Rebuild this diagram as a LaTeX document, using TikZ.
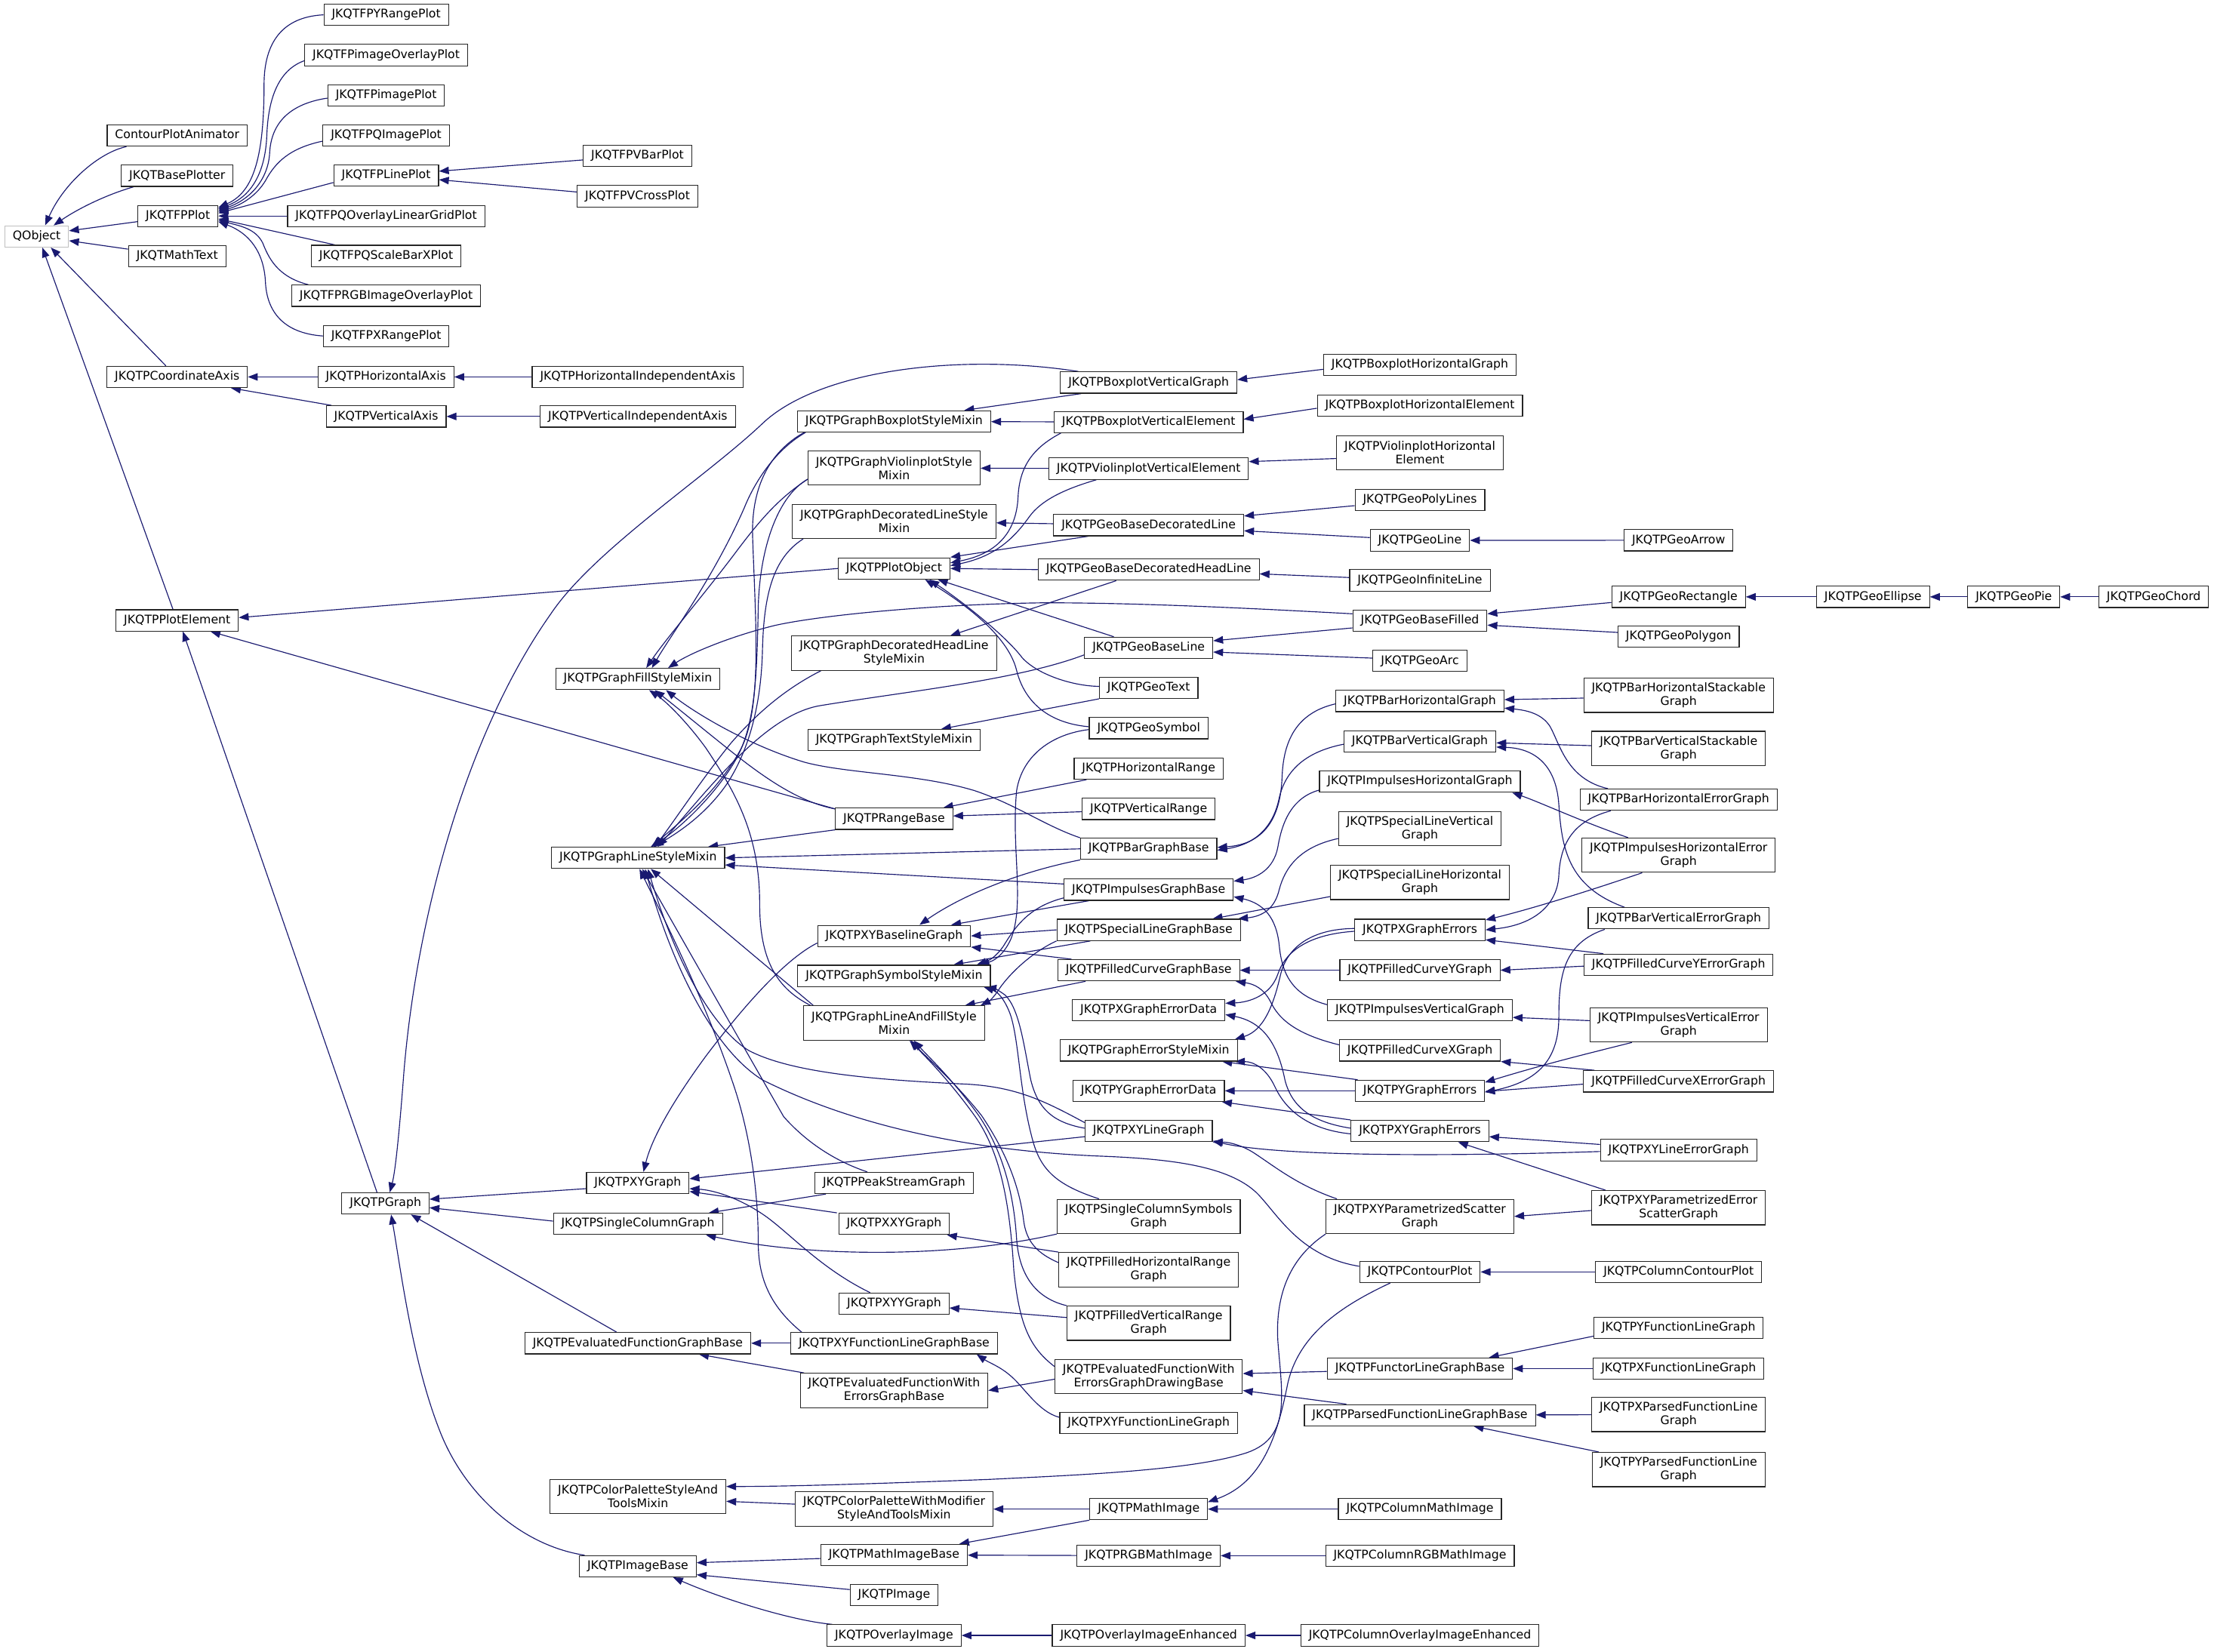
\documentclass[tikz,border=0pt]{standalone}
\usepackage{fontspec}
\setmainfont{DejaVu Sans}
\usetikzlibrary{arrows.meta}
\definecolor{edgeblue}{HTML}{191970}
\definecolor{boxgray}{HTML}{BFBFBF}
\pgfdeclarelayer{bg}
\pgfdeclarelayer{edges}
\pgfsetlayers{bg,edges,main}
\tikzset{
 cls/.style={draw=black!85, line width=0.6pt, fill=white, font=\fontsize{8.4}{9.6}\selectfont, inner xsep=5.6pt, inner ysep=3.5pt, text height=6.3pt, text depth=1.8pt},
 clsb/.style={draw=black!85, line width=0.6pt, fill=white, font=\fontsize{8.4}{9.6}\selectfont, inner xsep=5.6pt, inner ysep=3pt, align=center, minimum height=24.3pt},
 inh/.style={draw=edgeblue, line width=0.62pt, -{Triangle[length=7pt,width=5.3pt]}},
}
\begin{document}
\begin{tikzpicture}[x=1pt,y=-1pt]
\begin{pgfonlayer}{bg}
\fill[white] (0,0) rectangle (1568,1170.2);
\end{pgfonlayer}
\useasboundingbox (0,0) rectangle (1568,1170.2);
% column 1
\node[cls,draw=boxgray] (qo) at (26,167.5) {QObject};
\node[cls] (cpa) at (125.5,96) {ContourPlotAnimator};
\node[cls] (bp) at (125.5,124.5) {JKQTBasePlotter};
\node[cls] (fpp) at (126,153) {JKQTFPPlot};
\node[cls] (mt) at (125.5,181.5) {JKQTMathText};
\node[cls] (ca) at (125.5,267) {JKQTPCoordinateAxis};
\node[cls] (pe) at (125.5,439.5) {JKQTPPlotElement};
% column 2
\node[cls] (fpyr) at (273.5,10.5) {JKQTFPYRangePlot};
\node[cls] (fpio) at (273.5,39) {JKQTFPimageOverlayPlot};
\node[cls] (fpi) at (273.5,67.5) {JKQTFPimagePlot};
\node[cls] (fpqi) at (273.5,96) {JKQTFPQImagePlot};
\node[cls] (fplp) at (273.5,124.3) {JKQTFPLinePlot};
\node[cls] (fpog) at (273.5,153) {JKQTFPQOverlayLinearGridPlot};
\node[cls] (fpsb) at (273.5,181.3) {JKQTFPQScaleBarXPlot};
\node[cls] (fprgb) at (273.5,209.5) {JKQTFPRGBImageOverlayPlot};
\node[cls] (fpxr) at (273.5,238) {JKQTFPXRangePlot};
\node[cls] (hax) at (273.3,267) {JKQTPHorizontalAxis};
\node[cls] (vax) at (273.5,295) {JKQTPVerticalAxis};
\node[cls] (gr) at (273,852.5) {JKQTPGraph};
% column 3
\node[cls] (fpvb) at (451.5,110.3) {JKQTFPVBarPlot};
\node[cls] (fpvc) at (451.5,139) {JKQTFPVCrossPlot};
\node[cls] (hia) at (451.7,267) {JKQTPHorizontalIndependentAxis};
\node[cls] (via) at (451.7,295) {JKQTPVerticalIndependentAxis};
\node[cls] (fill) at (451.7,481) {JKQTPGraphFillStyleMixin};
\node[cls] (lsm) at (451.9,607.7) {JKQTPGraphLineStyleMixin};
\node[cls] (xyg) at (451.7,838) {JKQTPXYGraph};
\node[cls] (scg) at (451.8,867) {JKQTPSingleColumnGraph};
\node[cls] (efgb) at (451.7,951.5) {JKQTPEvaluatedFunctionGraphBase};
\node[clsb] (cpst) at (451.8,1060) {JKQTPColorPaletteStyleAnd\\ToolsMixin};
\node[cls] (ib) at (451.7,1109.5) {JKQTPImageBase};
% column 4
\node[cls] (boxm) at (633.2,298.5) {JKQTPGraphBoxplotStyleMixin};
\node[clsb] (vio) at (633.2,331.5) {JKQTPGraphViolinplotStyle\\Mixin};
\node[clsb] (dls) at (633.2,369.3) {JKQTPGraphDecoratedLineStyle\\Mixin};
\node[cls] (po) at (633.2,402.7) {JKQTPPlotObject};
\node[clsb] (dhls) at (633.2,462.7) {JKQTPGraphDecoratedHeadLine\\StyleMixin};
\node[cls] (txt) at (633.2,524.3) {JKQTPGraphTextStyleMixin};
\node[cls] (rb) at (633.2,580) {JKQTPRangeBase};
\node[cls] (xyb) at (633.2,663) {JKQTPXYBaselineGraph};
\node[cls] (sym) at (633.2,691.3) {JKQTPGraphSymbolStyleMixin};
\node[clsb] (laf) at (633.2,724.6) {JKQTPGraphLineAndFillStyle\\Mixin};
\node[cls] (psg) at (633.2,838) {JKQTPPeakStreamGraph};
\node[cls] (xxy) at (633.2,867) {JKQTPXXYGraph};
\node[cls] (xyy) at (633.2,923.5) {JKQTPXYYGraph};
\node[cls] (xyflgb) at (633.2,951.5) {JKQTPXYFunctionLineGraphBase};
\node[clsb] (efwegb) at (633.2,985) {JKQTPEvaluatedFunctionWith\\ErrorsGraphBase};
\node[clsb] (cpwm) at (633.2,1069) {JKQTPColorPaletteWithModifier\\StyleAndToolsMixin};
\node[cls] (mib) at (633.2,1101.5) {JKQTPMathImageBase};
\node[cls] (img) at (633.2,1130) {JKQTPImage};
\node[cls] (oi) at (633.2,1158.5) {JKQTPOverlayImage};
% column 5
\node[cls] (bvg) at (813.5,271) {JKQTPBoxplotVerticalGraph};
\node[cls] (bve) at (813.5,299) {JKQTPBoxplotVerticalElement};
\node[cls] (vve) at (813.5,332) {JKQTPViolinplotVerticalElement};
\node[cls] (gbdl) at (813.5,372) {JKQTPGeoBaseDecoratedLine};
\node[cls] (gbdhl) at (813.5,403.5) {JKQTPGeoBaseDecoratedHeadLine};
\node[cls] (gbl) at (813.5,458.9) {JKQTPGeoBaseLine};
\node[cls] (gtxt) at (813.5,487.2) {JKQTPGeoText};
\node[cls] (gsym) at (813.5,515.8) {JKQTPGeoSymbol};
\node[cls] (hr) at (813.5,544.5) {JKQTPHorizontalRange};
\node[cls] (vr) at (813.5,573) {JKQTPVerticalRange};
\node[cls] (bgb) at (813.5,601.3) {JKQTPBarGraphBase};
\node[cls] (igb) at (813.5,630.2) {JKQTPImpulsesGraphBase};
\node[cls] (slgb) at (813.5,658.7) {JKQTPSpecialLineGraphBase};
\node[cls] (fcgb) at (813.5,687.3) {JKQTPFilledCurveGraphBase};
\node[cls] (xged) at (813.5,715.7) {JKQTPXGraphErrorData};
\node[cls] (gesm) at (813.5,744.1) {JKQTPGraphErrorStyleMixin};
\node[cls] (yged) at (813.5,772.7) {JKQTPYGraphErrorData};
\node[cls] (xylg) at (813.5,801.2) {JKQTPXYLineGraph};
\node[clsb] (scsg) at (813.5,861.7) {JKQTPSingleColumnSymbols\\Graph};
\node[clsb] (fhrg) at (813.5,899.4) {JKQTPFilledHorizontalRange\\Graph};
\node[clsb] (fvrg) at (813.5,937.3) {JKQTPFilledVerticalRange\\Graph};
\node[clsb] (efwegdb) at (813.5,975) {JKQTPEvaluatedFunctionWith\\ErrorsGraphDrawingBase};
\node[cls] (xyflg) at (813.5,1008) {JKQTPXYFunctionLineGraph};
\node[cls] (mi) at (813.5,1069) {JKQTPMathImage};
\node[cls] (rgbmi) at (813.5,1102) {JKQTPRGBMathImage};
\node[cls] (oie) at (813.5,1158.5) {JKQTPOverlayImageEnhanced};
% column 6
\node[cls] (bxhg) at (1005.6,258.6) {JKQTPBoxplotHorizontalGraph};
\node[cls] (bxhe) at (1005.6,287.2) {JKQTPBoxplotHorizontalElement};
\node[clsb] (vhe) at (1005.6,320.8) {JKQTPViolinplotHorizontal\\Element};
\node[cls] (gpl) at (1005.6,354.2) {JKQTPGeoPolyLines};
\node[cls] (gl) at (1005.6,382.8) {JKQTPGeoLine};
\node[cls] (gil) at (1005.6,411.1) {JKQTPGeoInfiniteLine};
\node[cls] (gbf) at (1005.6,439.8) {JKQTPGeoBaseFilled};
\node[cls] (garc) at (1005.6,468.2) {JKQTPGeoArc};
\node[cls] (barh) at (1005.6,496.6) {JKQTPBarHorizontalGraph};
\node[cls] (barv) at (1005.6,525.2) {JKQTPBarVerticalGraph};
\node[cls] (ihg) at (1005.6,553.7) {JKQTPImpulsesHorizontalGraph};
\node[clsb] (slvg) at (1005.6,587) {JKQTPSpecialLineVertical\\Graph};
\node[clsb] (slhg) at (1005.6,625.1) {JKQTPSpecialLineHorizontal\\Graph};
\node[cls] (xge) at (1005.6,658.7) {JKQTPXGraphErrors};
\node[cls] (fcyg) at (1005.6,687.3) {JKQTPFilledCurveYGraph};
\node[cls] (ivg) at (1005.6,715.7) {JKQTPImpulsesVerticalGraph};
\node[cls] (fcxg) at (1005.6,744.1) {JKQTPFilledCurveXGraph};
\node[cls] (yge) at (1005.6,772.7) {JKQTPYGraphErrors};
\node[cls] (xyge) at (1005.6,801.2) {JKQTPXYGraphErrors};
\node[clsb] (xypsg) at (1005.6,861.7) {JKQTPXYParametrizedScatter\\Graph};
\node[cls] (cp) at (1005.6,901) {JKQTPContourPlot};
\node[cls] (flgb) at (1005.6,969.5) {JKQTPFunctorLineGraphBase};
\node[cls] (pflgb) at (1005.6,1002.5) {JKQTPParsedFunctionLineGraphBase};
\node[cls] (cmi) at (1005.6,1069) {JKQTPColumnMathImage};
\node[cls] (crgbmi) at (1005.6,1102) {JKQTPColumnRGBMathImage};
\node[cls] (coie) at (1005.6,1158.5) {JKQTPColumnOverlayImageEnhanced};
% column 7
\node[cls] (garrow) at (1188.8,382.7) {JKQTPGeoArrow};
\node[cls] (grect) at (1188.8,422.8) {JKQTPGeoRectangle};
\node[cls] (gpoly) at (1188.8,451) {JKQTPGeoPolygon};
\node[clsb] (barhs) at (1188.8,492.5) {JKQTPBarHorizontalStackable\\Graph};
\node[clsb] (barvs) at (1188.8,530.2) {JKQTPBarVerticalStackable\\Graph};
\node[cls] (barhe) at (1188.8,566.5) {JKQTPBarHorizontalErrorGraph};
\node[clsb] (ihe) at (1188.8,605.8) {JKQTPImpulsesHorizontalError\\Graph};
\node[cls] (barve) at (1188.8,650.5) {JKQTPBarVerticalErrorGraph};
\node[cls] (fcye) at (1188.8,683.4) {JKQTPFilledCurveYErrorGraph};
\node[clsb] (ive) at (1188.8,726) {JKQTPImpulsesVerticalError\\Graph};
\node[cls] (fcxe) at (1188.8,766) {JKQTPFilledCurveXErrorGraph};
\node[cls] (xyle) at (1188.8,814.7) {JKQTPXYLineErrorGraph};
\node[clsb] (xypes) at (1188.8,855.5) {JKQTPXYParametrizedError\\ScatterGraph};
\node[cls] (ccp) at (1188.8,901) {JKQTPColumnContourPlot};
\node[cls] (yflg) at (1188.8,940.5) {JKQTPYFunctionLineGraph};
\node[cls] (xflg) at (1188.8,969.5) {JKQTPXFunctionLineGraph};
\node[clsb] (xpflg) at (1188.8,1002) {JKQTPXParsedFunctionLine\\Graph};
\node[clsb] (ypflg) at (1188.8,1041) {JKQTPYParsedFunctionLine\\Graph};
% columns 8-10
\node[cls] (gell) at (1326.5,422.8) {JKQTPGeoEllipse};
\node[cls] (gpie) at (1426.2,422.8) {JKQTPGeoPie};
\node[cls] (gchord) at (1525.3,422.8) {JKQTPGeoChord};

\begin{pgfonlayer}{edges}
% QObject
\draw[inh] ([xshift=14pt]cpa.south west) .. controls (70,108) and (45,130) .. ([xshift=6pt]qo.north);
\draw[inh] ([xshift=9pt]bp.south west) .. controls (75,138) and (55,148) .. ([xshift=12pt]qo.north);
\draw[inh] ([yshift=-4pt]fpp.west) -- ([yshift=4pt]qo.east);
\draw[inh] ([yshift=5pt]mt.west) -- ([yshift=-3pt]qo.east);
\draw[inh] ([xshift=-8pt]ca.north) -- ([xshift=10pt]qo.south);
\draw[inh] ([xshift=-3pt]pe.north) -- ([xshift=4pt]qo.south);
% FP plots
\draw[inh] (fpyr.west) .. controls (200,12) and (187,30) .. (187,60) .. controls (187,110) and (180,136) .. ([yshift=6pt]fpp.east);
\draw[inh] ([yshift=-4pt]fpio.west) .. controls (196,50) and (190,72) .. (189,95) .. controls (188,125) and (176,140) .. ([yshift=5pt]fpp.east);
\draw[inh] ([yshift=-2pt]fpi.west) .. controls (202,74) and (192,90) .. (191,108) .. controls (190,128) and (176,142) .. ([yshift=4pt]fpp.east);
\draw[inh] ([yshift=-4pt]fpqi.west) .. controls (205,105) and (195,115) .. (188,128) .. controls (182,138) and (172,145) .. ([yshift=3pt]fpp.east);
\draw[inh] ([yshift=-5pt]fplp.west) -- ([yshift=2pt]fpp.east);
\draw[inh] (fpog.west) -- (fpp.east);
\draw[inh] ([xshift=17pt]fpsb.north west) -- ([yshift=-2pt]fpp.east);
\draw[inh] ([xshift=12pt]fprgb.north west) .. controls (196,196) and (190,182) .. (186,172) .. controls (181,162) and (170,160) .. ([yshift=-3pt]fpp.east);
\draw[inh] (fpxr.west) .. controls (200,236) and (189,220) .. (188,200) .. controls (187,178) and (176,165) .. ([yshift=-4pt]fpp.east);
\draw[inh] ([yshift=-3pt]fpvb.west) -- ([yshift=3pt]fplp.east);
\draw[inh] ([yshift=3pt]fpvc.west) -- ([yshift=-3pt]fplp.east);
% axes
\draw[inh] (hax) -- (ca);
\draw[inh] ([xshift=4pt]vax.north west) -- ([xshift=-12pt]ca.south east);
\draw[inh] (hia) -- (hax);
\draw[inh] (via) -- (vax);
% plot element
\draw[inh] (po.west) -- ([yshift=2pt]pe.east);
\draw[inh] ([yshift=7pt]rb.west) -- ([xshift=-20pt]pe.south east);
\draw[inh] ([xshift=-6pt]gr.north) -- ([xshift=4pt]pe.south);
% graph
\draw[inh] ([xshift=13pt]bvg.north west) .. controls (680,250) and (580,262) .. (540,300) .. controls (500,338) and (420,390) .. (390,435) .. controls (330,520) and (295,650) .. (286,760) .. controls (283,800) and (280,830) .. ([xshift=3pt]gr.north);
\draw[inh] ([yshift=-4pt]xyg.west) -- ([yshift=3pt]gr.east);
\draw[inh] ([yshift=2pt]scg.west) -- ([yshift=-3pt]gr.east);
\draw[inh] ([xshift=-15pt]efgb.north) -- ([xshift=18pt]gr.south);
\draw[inh] ([xshift=4pt]ib.north west) .. controls (370,1095) and (330,1060) .. (312,1015) .. controls (292,965) and (284,900) .. ([xshift=4pt]gr.south);
% xy graph
\draw[inh] ([yshift=-5pt]xyb.west) .. controls (555,680) and (525,715) .. (500,748) .. controls (478,778) and (462,805) .. ([xshift=4pt]xyg.north);
\draw[inh] ([yshift=-4pt]xylg.west) -- ([yshift=3pt]xyg.east);
\draw[inh] ([xshift=-17pt]xyy.north) .. controls (580,898) and (558,872) .. (540,860) .. controls (522,848) and (505,843) .. ([yshift=-4pt]xyg.east);
\draw[inh] ([xshift=-1pt]xxy.north west) -- ([yshift=-6pt]xyg.east);
% single column
\draw[inh] ([xshift=8pt]psg.south west) -- ([xshift=-10pt]scg.north east);
\draw[inh] (scsg.south west) .. controls (680,890) and (580,892) .. ([xshift=-12pt]scg.south east);
% evaluated functions
\draw[inh] (xyflgb) -- (efgb);
\draw[inh] ([xshift=3pt]efwegb.north west) -- ([xshift=-37pt]efgb.south east);
\draw[inh] ([yshift=-2pt]efwegdb.west) -- (efwegb.east);
\draw[inh] ([yshift=4pt]xyflg.west) .. controls (735,1000) and (725,982) .. (715,974) .. controls (708,968) and (700,965) .. ([xshift=-15pt]xyflgb.south east);
\draw[inh] ([yshift=-2pt]flgb.west) -- ([yshift=2pt]efwegdb.east);
\draw[inh] ([xshift=30pt]pflgb.north west) -- ([yshift=-10pt]efwegdb.east);
\draw[inh] ([yshift=-6pt]yflg.west) -- ([xshift=-17pt]flgb.north east);
\draw[inh] (xflg) -- (flgb);
\draw[inh] (xpflg) -- (pflgb);
\draw[inh] ([xshift=5pt]ypflg.north west) -- ([xshift=-44pt]pflgb.south east);
% color palette, images
\draw[inh] ([yshift=3.5pt]cpwm.west) -- ([yshift=-3.5pt]cpst.east);
\draw[inh] (xypsg.south west) .. controls (915,890) and (903,915) .. (905,950) .. controls (908,990) and (915,1020) .. (880,1030) .. controls (840,1042) and (760,1045) .. (700,1048) .. controls (620,1051) and (560,1053) .. ([yshift=7pt]cpst.east);
\draw[inh] ([yshift=-2.5pt]mib.west) -- ([yshift=2.5pt]ib.east);
\draw[inh] ([yshift=4pt]img.west) -- ([yshift=-6pt]ib.east);
\draw[inh] ([xshift=4pt]oi.north west) .. controls (560,1148) and (510,1132) .. ([xshift=25pt]ib.south);
\draw[inh] (oie) -- (oi);
\draw[inh] (coie) -- (oie);
\draw[inh] (rgbmi) -- (mib);
\draw[inh] (crgbmi) -- (rgbmi);
\draw[inh] (mi.south west) -- ([xshift=-6pt]mib.north east);
\draw[inh] (mi) -- (cpwm);
\draw[inh] (cmi) -- (mi);
\draw[inh] ([xshift=-21pt]cp.south) .. controls (950,925) and (920,945) .. (912,980) .. controls (905,1015) and (895,1050) .. ([yshift=5pt]mi.east);
\draw[inh] (ccp) -- (cp);
% line style mixin children
\draw[inh] ([xshift=5pt]boxm.south west) .. controls (545,320) and (532,345) .. (533,380) .. controls (535,440) and (540,500) .. (525,530) .. controls (508,562) and (478,585) .. ([xshift=10pt]lsm.north);
\draw[inh] ([yshift=-8pt]vio.west) .. controls (550,352) and (538,390) .. (537,430) .. controls (536,480) and (535,515) .. (520,540) .. controls (505,565) and (480,588) .. ([xshift=9pt]lsm.north);
\draw[inh] ([xshift=8pt]dls.south west) .. controls (548,395) and (541,420) .. (540,460) .. controls (539,505) and (528,535) .. (515,555) .. controls (500,577) and (480,590) .. ([xshift=11pt]lsm.north);
\draw[inh] ([xshift=21pt]dhls.south west) .. controls (552,490) and (532,510) .. (518,526) .. controls (500,548) and (482,575) .. ([xshift=12pt]lsm.north);
\draw[inh] ([yshift=-5pt]gbl.west) .. controls (720,482) and (640,490) .. (580,500) .. controls (542,507) and (505,555) .. ([xshift=14pt]lsm.north);
\draw[inh] (rb.south west) -- ([xshift=-12pt]lsm.north east);
\draw[inh] (bgb.west) -- (lsm.east);
\draw[inh] ([yshift=4pt]igb.west) -- ([yshift=-5pt]lsm.east);
\draw[inh] ([xshift=7pt]laf.north west) -- ([xshift=9pt]lsm.south);
\draw[inh] ([yshift=6pt]xylg.west) .. controls (740,780) and (720,770) .. (685,768) .. controls (620,765) and (560,760) .. (530,744) .. controls (500,725) and (475,670) .. ([xshift=7pt]lsm.south);
\draw[inh] ([yshift=4pt]cp.west) .. controls (920,890) and (905,860) .. (890,845) .. controls (870,826) and (830,821) .. (780,819) .. controls (680,815) and (600,795) .. (540,765) .. controls (500,740) and (472,670) .. ([xshift=5pt]lsm.south);
\draw[inh] ([xshift=-19pt]psg.north) .. controls (590,822) and (570,808) .. (555,791) .. controls (520,730) and (480,660) .. ([xshift=3pt]lsm.south);
\draw[inh] ([xshift=8pt]xyflgb.north west) .. controls (545,925) and (537,905) .. (537,880) .. controls (537,840) and (530,800) .. (520,770) .. controls (500,710) and (470,650) .. ([xshift=1pt]lsm.south);
% fill style mixin children
\draw[inh] ([xshift=6pt]boxm.south west) .. controls (550,318) and (535,340) .. (527,360) .. controls (505,410) and (475,450) .. ([xshift=10pt]fill.north);
\draw[inh] ([yshift=-8pt]vio.west) .. controls (553,352) and (540,366) .. (522,390) .. controls (498,422) and (472,452) .. ([xshift=6pt]fill.north);
\draw[inh] ([yshift=5pt]gbf.west) .. controls (870,430) and (800,427) .. (740,427) .. controls (660,428) and (580,436) .. (549,443) .. controls (520,450) and (490,462) .. ([xshift=-37pt]fill.north east);
\draw[inh] ([yshift=7pt]rb.west) .. controls (565,568) and (540,550) .. (515,530) .. controls (495,514) and (478,500) .. ([xshift=12pt]fill.south);
\draw[inh] (bgb.north west) .. controls (740,585) and (720,570) .. (690,560) .. controls (650,548) and (600,548) .. (570,540) .. controls (530,528) and (492,505) .. ([xshift=20pt]fill.south);
\draw[inh] ([xshift=5pt]laf.north west) .. controls (550,700) and (538,680) .. (538,640) .. controls (538,590) and (520,560) .. (500,530) .. controls (487,512) and (472,497) .. ([xshift=8pt]fill.south);
% plot object children
\draw[inh] ([xshift=5pt]bve.south west) .. controls (730,318) and (722,332) .. (721,352) .. controls (720,375) and (708,392) .. ([yshift=4pt]po.east);
\draw[inh] ([xshift=34pt]vve.south west) .. controls (752,347) and (737,355) .. (729,366) .. controls (719,380) and (706,394) .. ([yshift=2pt]po.east);
\draw[inh] ([xshift=25pt]gbdl.south west) -- ([yshift=8pt]po.east);
\draw[inh] (gbdhl.west) -- (po.east);
\draw[inh] ([xshift=21pt]gbl.north west) -- ([xshift=31pt]po.south);
\draw[inh] ([yshift=1pt]gtxt.west) .. controls (760,486) and (735,478) .. (724,466) .. controls (712,450) and (680,425) .. ([xshift=25pt]po.south);
\draw[inh] ([yshift=1pt]gsym.west) .. controls (740,512) and (725,495) .. (720,475) .. controls (714,450) and (682,427) .. ([xshift=22pt]po.south);
% style mixin direct children
\draw[inh] (bve) -- (boxm);
\draw[inh] ([xshift=15pt]bvg.south west) -- ([xshift=-19pt]boxm.north east);
\draw[inh] (vve) -- (vio);
\draw[inh] (gbdl) -- (dls);
\draw[inh] ([xshift=-23pt]gbdhl.south) -- ([xshift=-33pt]dhls.north east);
\draw[inh] (gtxt.south west) -- ([xshift=-28pt]txt.north east);
\draw[inh] ([yshift=-1pt]gsym.west) .. controls (745,520) and (724,535) .. (720,560) .. controls (716,600) and (726,640) .. (716,665) .. controls (712,674) and (706,680) .. ([xshift=-8pt]sym.north east);
% ranges
\draw[inh] ([xshift=9pt]hr.south west) -- ([xshift=-7pt]rb.north east);
\draw[inh] ([yshift=-2pt]vr.west) -- ([yshift=2pt]rb.east);
% xy baseline children
\draw[inh] (bgb.south west) .. controls (720,618) and (680,635) .. ([xshift=18pt]xyb.north);
\draw[inh] ([xshift=18pt]igb.south west) -- ([xshift=-14pt]xyb.north east);
\draw[inh] ([yshift=2pt]igb.south west) .. controls (730,642) and (720,655) .. (712,668) .. controls (708,675) and (702,680) .. ([xshift=-10pt]sym.north east);
\draw[inh] (slgb.west) -- (xyb.east);
\draw[inh] ([xshift=24pt]slgb.south west) -- ([xshift=42pt]sym.north);
\draw[inh] (slgb.south west) .. controls (730,675) and (715,690) .. (708,700) .. controls (705,705) and (701,709) .. ([xshift=-3pt]laf.north east);
\draw[inh] ([xshift=10pt]fcgb.north west) -- (xyb.south east);
\draw[inh] ([xshift=20pt]fcgb.south west) -- ([xshift=-14pt]laf.north east);
% column 6 into column 5
\draw[inh] ([yshift=-2pt]barh.west) .. controls (918,505) and (909,525) .. (908,550) .. controls (907,580) and (895,598) .. ([yshift=1pt]bgb.east);
\draw[inh] ([yshift=-2pt]barv.west) .. controls (922,533) and (910,548) .. (906,565) .. controls (902,585) and (890,598) .. ([yshift=-1pt]bgb.east);
\draw[inh] ([yshift=-6pt]ihg.west) .. controls (915,565) and (908,582) .. (905,600) .. controls (902,616) and (890,622) .. ([yshift=6pt]igb.east);
\draw[inh] ([yshift=4pt]ivg.west) .. controls (915,705) and (908,690) .. (906,670) .. controls (904,650) and (895,640) .. ([yshift=-5pt]igb.east);
\draw[inh] ([yshift=-7pt]slvg.west) .. controls (920,600) and (910,615) .. (906,630) .. controls (903,643) and (895,649) .. ([xshift=-2pt]slgb.north east);
\draw[inh] ([yshift=-10pt]slhg.west) -- ([xshift=-20pt]slgb.north east);
\draw[inh] (fcyg) -- (fcgb);
\draw[inh] ([yshift=4pt]fcxg.west) .. controls (915,732) and (905,720) .. (900,710) .. controls (895,700) and (888,697) .. ([xshift=-3pt]fcgb.south east);
% errors
\draw[inh] ([yshift=-1pt]xge.west) .. controls (925,662) and (910,675) .. (905,690) .. controls (900,705) and (885,710) .. ([yshift=5pt]xged.east);
\draw[inh] ([yshift=1pt]xge.west) .. controls (930,658) and (912,670) .. (907,690) .. controls (902,712) and (895,730) .. ([xshift=-2pt]gesm.north east);
\draw[inh] (yge) -- (yged);
\draw[inh] ([xshift=2pt]yge.north west) -- ([xshift=-11pt]gesm.south east);
\draw[inh] ([yshift=2pt]xyge.west) .. controls (930,795) and (915,785) .. (910,765) .. controls (905,740) and (895,724) .. ([yshift=-3pt]xged.east);
\draw[inh] (xyge.north west) -- ([xshift=-2pt]yged.south east);
\draw[inh] ([yshift=-2pt]xyge.west) .. controls (925,800) and (910,785) .. (903,770) .. controls (897,757) and (888,752) .. ([xshift=-2pt]gesm.south east);
% xy line graph and symbols
\draw[inh] ([yshift=2pt]xylg.west) .. controls (745,795) and (735,785) .. (730,765) .. controls (725,740) and (722,715) .. (712,705) .. controls (708,702) and (704,700) .. ([xshift=-3pt]sym.south east);
\draw[inh] ([xshift=30pt]scsg.north west) .. controls (750,840) and (738,830) .. (732,810) .. controls (722,775) and (722,740) .. (716,720) .. controls (712,708) and (706,702) .. ([xshift=-5pt]sym.south east);
\draw[inh] ([yshift=-1pt]xyle.west) .. controls (1000,820) and (900,818) .. ([yshift=-7pt]xylg.east);
\draw[inh] ([yshift=4pt]xyle.west) -- ([yshift=-4pt]xyge.east);
\draw[inh] ([xshift=8pt]xypsg.north west) .. controls (920,840) and (905,828) .. (890,818) .. controls (880,811) and (870,809) .. (xylg.south east);
\draw[inh] ([yshift=-2pt]xypes.west) -- (xypsg.east);
\draw[inh] ([xshift=10pt]xypes.north west) -- ([xshift=-22pt]xyge.south east);
% column 6 simple
\draw[inh] ([yshift=-3pt]bxhg.west) -- ([yshift=2pt]bvg.east);
\draw[inh] ([yshift=-2pt]bxhe.west) -- ([yshift=2pt]bve.east);
\draw[inh] ([yshift=-4pt]vhe.west) -- ([yshift=5pt]vve.east);
\draw[inh] ([yshift=-4pt]gpl.west) -- ([yshift=6.5pt]gbdl.east);
\draw[inh] ([yshift=2pt]gl.west) -- ([yshift=-4pt]gbdl.east);
\draw[inh] (garrow) -- (gl);
\draw[inh] ([yshift=2pt]gil.west) -- ([yshift=-3pt]gbdhl.east);
\draw[inh] ([yshift=-5pt]gbf.west) -- ([yshift=5pt]gbl.east);
\draw[inh] ([yshift=2pt]garc.west) -- ([yshift=-3pt]gbl.east);
\draw[inh] ([yshift=-4pt]grect.west) -- ([yshift=5pt]gbf.east);
\draw[inh] ([yshift=3pt]gpoly.west) -- ([yshift=-3pt]gbf.east);
\draw[inh] (gell) -- (grect);
\draw[inh] (gpie) -- (gell);
\draw[inh] (gchord) -- (gpie);
% column 7 into column 6
\draw[inh] ([yshift=-2pt]barhs.west) -- ([yshift=1pt]barh.east);
\draw[inh] ([yshift=2pt]barvs.west) -- ([yshift=-1pt]barv.east);
\draw[inh] ([xshift=20pt]barhe.north west) .. controls (1110,552) and (1105,528) .. (1098,515) .. controls (1092,505) and (1080,503) .. ([yshift=-5pt]barh.east);
\draw[inh] ([xshift=22pt]barhe.south west) .. controls (1112,582) and (1105,600) .. (1104,620) .. controls (1103,640) and (1088,655) .. (xge.east);
\draw[inh] ([xshift=33pt]ihe.north west) .. controls (1120,582) and (1090,568) .. ([xshift=-6pt]ihg.south east);
\draw[inh] ([xshift=43pt]ihe.south west) .. controls (1120,633) and (1080,645) .. ([yshift=7pt]xge.east);
\draw[inh] ([xshift=26pt]barve.north west) .. controls (1110,628) and (1106,600) .. (1104,570) .. controls (1102,540) and (1085,530) .. ([yshift=-4pt]barv.east);
\draw[inh] ([xshift=12pt]barve.south west) .. controls (1108,668) and (1104,690) .. (1104,720) .. controls (1104,750) and (1090,766) .. ([yshift=-1pt]yge.east);
\draw[inh] ([yshift=-1pt]fcye.west) -- (fcyg.east);
\draw[inh] ([xshift=14pt]fcye.north west) -- ([yshift=-7pt]xge.east);
\draw[inh] ([yshift=3pt]ive.west) -- ([yshift=-5pt]ivg.east);
\draw[inh] ([xshift=30pt]ive.south west) .. controls (1130,745) and (1100,752) .. ([yshift=6pt]yge.east);
\draw[inh] ([xshift=8pt]fcxe.north west) -- (fcxg.south east);
\draw[inh] ([yshift=-2pt]fcxe.west) -- ([yshift=-0.5pt]yge.east);
% line and fill children at bottom
\draw[inh] ([yshift=5pt]fhrg.west) .. controls (735,888) and (727,880) .. (725,865) .. controls (722,840) and (712,815) .. (695,790) .. controls (675,765) and (655,748) .. ([xshift=12pt]laf.south);
\draw[inh] (fvrg.north west) .. controls (735,920) and (722,905) .. (720,878) .. controls (718,845) and (710,815) .. (693,790) .. controls (675,765) and (657,748) .. ([xshift=14pt]laf.south);
\draw[inh] ([yshift=7pt]efwegdb.west) .. controls (730,955) and (722,940) .. (718,900) .. controls (715,850) and (708,815) .. (690,790) .. controls (672,765) and (655,748) .. ([xshift=11pt]laf.south);
\draw[inh] (fhrg.north west) -- ([xshift=-2pt]xxy.south east);
\draw[inh] ([yshift=4pt]fvrg.west) -- ([yshift=-3pt]xyy.east);
\end{pgfonlayer}
\end{tikzpicture}
\end{document}
